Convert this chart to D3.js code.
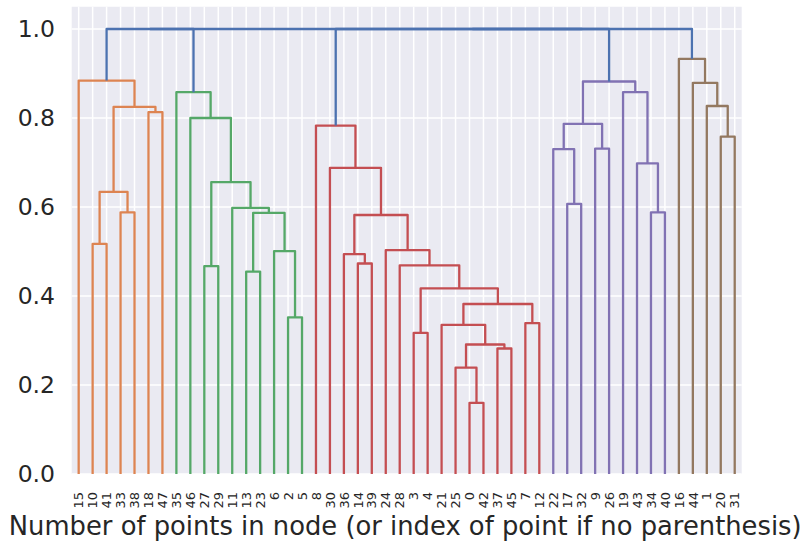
<!DOCTYPE html>
<html>
<head>
<meta charset="utf-8">
<script src="https://cdn.jsdelivr.net/npm/d3@7"></script>
<style>
  html, body { margin: 0; padding: 0; background: #ffffff; }
  svg { display: block; font-family: "DejaVu Sans", sans-serif; }
</style>
</head>
<body>
<svg id="chart" width="804" height="545"></svg>
<script>
// ---- data ----
const leafLabels = [15,10,41,33,38,18,47,35,46,27,29,11,13,23,6,2,5,8,30,36,14,39,24,28,3,4,21,25,0,42,37,45,7,12,22,17,32,9,26,19,43,34,40,16,44,1,20,31];
const yTicks = [0.0, 0.2, 0.4, 0.6, 0.8, 1.0];
const xTitle = "Number of points in node (or index of point if no parenthesis)";
const clusterColors = ["#4c72b0", "#dd8452", "#55a868", "#c44e52", "#8172b3", "#937860"];

// merges: [id, left, right, height, colorIndex]; numbers = leaf labels, strings = merge ids
const orangeMerges = [
  ["m0", 10, 41, 0.517, 1],
  ["m1", 33, 38, 0.588, 1],
  ["m2", "m0", "m1", 0.634, 1],
  ["m3", 18, 47, 0.813, 1],
  ["m4", "m2", "m3", 0.825, 1],
  ["m5", 15, "m4", 0.884, 1]
];
const greenMerges = [
  ["g0", 2, 5, 0.352, 2],
  ["g1", 6, "g0", 0.501, 2],
  ["g2", 13, 23, 0.455, 2],
  ["g3", "g2", "g1", 0.587, 2],
  ["g4", 11, "g3", 0.598, 2],
  ["g5", 27, 29, 0.467, 2],
  ["g6", "g5", "g4", 0.656, 2],
  ["g7", 46, "g6", 0.800, 2],
  ["g8", 35, "g7", 0.858, 2]
];
const redMerges = [
  ["r0", 0, 42, 0.160, 3],
  ["r1", 25, "r0", 0.239, 3],
  ["r2", 37, 45, 0.282, 3],
  ["r3", "r1", "r2", 0.291, 3],
  ["r4", 21, "r3", 0.335, 3],
  ["r5", 7, 12, 0.339, 3],
  ["r6", "r4", "r5", 0.382, 3],
  ["r7", 3, 4, 0.317, 3],
  ["r8", "r7", "r6", 0.417, 3],
  ["r9", 28, "r8", 0.469, 3],
  ["r10", 24, "r9", 0.503, 3],
  ["r11", 14, 39, 0.473, 3],
  ["r12", 36, "r11", 0.494, 3],
  ["r13", "r12", "r10", 0.582, 3],
  ["r14", 30, "r13", 0.688, 3],
  ["r15", 8, "r14", 0.783, 3]
];
const purpleMerges = [
  ["p0", 17, 32, 0.607, 4],
  ["p1", 22, "p0", 0.730, 4],
  ["p2", 9, 26, 0.731, 4],
  ["p3", "p1", "p2", 0.787, 4],
  ["p4", 34, 40, 0.588, 4],
  ["p5", 43, "p4", 0.698, 4],
  ["p6", 19, "p5", 0.858, 4],
  ["p7", "p3", "p6", 0.882, 4]
];
const brownMerges = [
  ["b0", 20, 31, 0.758, 5],
  ["b1", 1, "b0", 0.827, 5],
  ["b2", 44, "b1", 0.879, 5],
  ["b3", 16, "b2", 0.933, 5]
];
const blueMerges = [
  ["u0", "m5", "g8", 1.0, 0],
  ["u1", "r15", "p7", 1.0, 0],
  ["u2", "u1", "b3", 1.0, 0],
  ["u3", "u0", "u2", 1.0, 0]
];

// ---- layout ----
const plot = { left: 71.7, right: 741.7, top: 6.75, bottom: 474 };
const svg = d3.select("#chart");

const x = d3.scalePoint().domain(leafLabels).range([plot.left, plot.right]).padding(0.5);
const y = d3.scaleLinear().domain([0, 1.05]).range([plot.bottom, plot.top]);

// background
svg.append("rect")
  .attr("x", plot.left).attr("y", plot.top)
  .attr("width", plot.right - plot.left).attr("height", plot.bottom - plot.top)
  .attr("fill", "#eaeaf2");

// grid
const grid = svg.append("g");
grid.selectAll("line.h").data(yTicks).join("line")
  .attr("x1", plot.left).attr("x2", plot.right)
  .attr("y1", d => y(d)).attr("y2", d => y(d))
  .attr("stroke", "#ffffff").attr("stroke-width", 1.5);
grid.selectAll("line.v").data(leafLabels).join("line")
  .attr("y1", plot.top).attr("y2", plot.bottom)
  .attr("x1", d => x(d)).attr("x2", d => x(d))
  .attr("stroke", "#ffffff").attr("stroke-width", 1.5);

// build positions
const allMerges = [].concat(orangeMerges, greenMerges, redMerges, purpleMerges, brownMerges, blueMerges);
const nodePos = {};
function pos(ref) {
  if (typeof ref === "number") return { x: x(ref), h: 0 };
  return nodePos[ref];
}
const links = [];
allMerges.forEach(([id, a, b, h, c]) => {
  const pa = pos(a), pb = pos(b);
  nodePos[id] = { x: (pa.x + pb.x) / 2, h: h };
  links.push({ xa: pa.x, ha: pa.h, xb: pb.x, hb: pb.h, h: h, c: c });
});

function linkPath(d) {
  const p = d3.path();
  const ya = y(d.ha), yb = y(d.hb), yt = y(d.h);
  if (Math.abs(ya - yt) > 0.01) { p.moveTo(d.xa, ya); p.lineTo(d.xa, yt); }
  else { p.moveTo(d.xa, yt); }
  p.lineTo(d.xb, yt);
  if (Math.abs(yb - yt) > 0.01) p.lineTo(d.xb, yb);
  return p.toString();
}

svg.append("g").selectAll("path").data(links).join("path")
  .attr("d", linkPath)
  .attr("fill", "none")
  .attr("stroke", d => clusterColors[d.c])
  .attr("stroke-width", 2.3)
  .attr("stroke-linejoin", "round")
  .attr("stroke-linecap", "butt");

// y axis tick labels
svg.append("g").selectAll("text").data(yTicks).join("text")
  .attr("x", 55).attr("y", d => y(d))
  .attr("dy", "0.36em")
  .attr("text-anchor", "end")
  .attr("font-size", 23.5)
  .attr("fill", "#262626")
  .text(d => d3.format(".1f")(d));

// leaf labels
svg.append("g").selectAll("text").data(leafLabels).join("text")
  .attr("transform", d => `translate(${x(d)},${492}) rotate(-90)`)
  .attr("dy", "0.36em")
  .attr("text-anchor", "end")
  .attr("font-size", 13)
  .attr("fill", "#262626")
  .text(d => String(d));

// x title
svg.append("text")
  .attr("x", (plot.left + plot.right) / 2 - 1.5).attr("y", 535)
  .attr("text-anchor", "middle")
  .attr("font-size", 25.8)
  .attr("fill", "#262626")
  .text(xTitle);
</script>
</body>
</html>
